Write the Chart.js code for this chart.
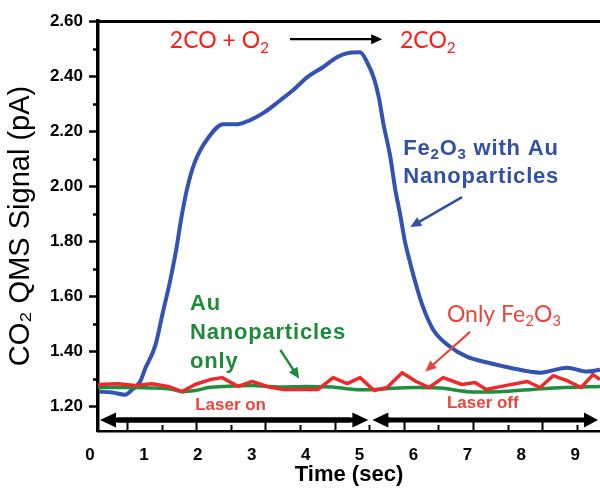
<!DOCTYPE html>
<html>
<head>
<meta charset="utf-8">
<script src="https://cdn.jsdelivr.net/npm/chart.js@4/dist/chart.umd.min.js"></script>
<style>
  html, body { margin: 0; padding: 0; background: #ffffff; }
  canvas { display: block; }
</style>
</head>
<body>
<canvas id="chart" width="600" height="488"></canvas>
<script>
// Axis ticks
const timeTicks = [0, 1, 2, 3, 4, 5, 6, 7, 8, 9];
const signalTicks = [1.2, 1.4, 1.6, 1.8, 2.0, 2.2, 2.4, 2.6];
const signalMinorTicks = [1.3, 1.5, 1.7, 1.9, 2.1, 2.3, 2.5];

// Fe2O3 with Au nanoparticles (blue)
const feAuTime = [0.17, 0.41, 0.65, 0.78, 0.93, 1.02, 1.21, 1.35, 1.48, 1.60, 1.69, 1.80, 1.95, 2.19, 2.47, 2.73, 2.97, 3.21, 3.53, 3.77, 4.03, 4.32, 4.58, 4.77, 5.01, 5.14, 5.27, 5.36, 5.44, 5.57, 5.66, 5.75, 5.84, 5.94, 6.05, 6.16, 6.36, 6.68, 6.99, 7.37, 7.79, 8.35, 8.85, 9.22, 9.46];
const feAuSignal = [1.253, 1.250, 1.242, 1.260, 1.290, 1.335, 1.420, 1.540, 1.650, 1.770, 1.880, 1.990, 2.090, 2.175, 2.225, 2.225, 2.240, 2.265, 2.312, 2.349, 2.396, 2.432, 2.468, 2.483, 2.486, 2.450, 2.390, 2.320, 2.229, 2.106, 1.990, 1.900, 1.800, 1.720, 1.640, 1.570, 1.480, 1.416, 1.380, 1.359, 1.340, 1.322, 1.340, 1.326, 1.333];

// Only Fe2O3 (red)
const feOnlyTime = [0.15, 0.52, 0.83, 1.15, 1.45, 1.71, 1.95, 2.23, 2.45, 2.75, 3.01, 3.28, 3.58, 3.90, 4.23, 4.51, 4.77, 5.01, 5.27, 5.51, 5.79, 6.05, 6.29, 6.55, 6.90, 7.14, 7.35, 7.70, 8.11, 8.35, 8.59, 8.85, 9.11, 9.33, 9.46];
const feOnlySignal = [1.279, 1.282, 1.275, 1.282, 1.272, 1.253, 1.279, 1.297, 1.304, 1.272, 1.290, 1.272, 1.261, 1.261, 1.261, 1.304, 1.282, 1.304, 1.257, 1.268, 1.322, 1.290, 1.268, 1.304, 1.279, 1.286, 1.261, 1.275, 1.290, 1.268, 1.311, 1.293, 1.268, 1.315, 1.297];

// Au nanoparticles only (green)
const auOnlyTime = [0.15, 0.5, 0.8, 1.2, 1.5, 1.71, 1.95, 2.2, 2.5, 3.0, 3.5, 4.0, 4.5, 4.9, 5.3, 5.6, 6.0, 6.5, 7.0, 7.6, 8.2, 8.8, 9.46];
const auOnlySignal = [1.268, 1.268, 1.268, 1.266, 1.262, 1.253, 1.257, 1.268, 1.272, 1.275, 1.270, 1.272, 1.270, 1.261, 1.261, 1.265, 1.268, 1.266, 1.253, 1.253, 1.261, 1.268, 1.272];

// Laser timing bar under the plot
const laserSwitchTime = 5.2;
const barTickStart = 0.686;
const barTickStep = 0.642;
const barTickCount = 15;

const BLUE = '#3452b2';
const BLUE_TEXT = '#3351a3';
const RED = '#ec2a2a';
const RED_TEXT = '#e8453c';
const GREEN = '#1f8e3e';
const GREEN_TEXT = '#1f8a3a';
const SANS = '"Liberation Sans", Arial, "DejaVu Sans", sans-serif';
const HUMANIST = 'Lato, "Open Sans", sans-serif';

const toPoints = (xs, ys) => xs.map((x, i) => ({ x: x, y: ys[i] }));

function drawRich(ctx, parts, x, y, size, weight, family, color, spacing) {
  let cx = x;
  ctx.save();
  ctx.fillStyle = color;
  ctx.textBaseline = 'alphabetic';
  ctx.textAlign = 'left';
  ctx.letterSpacing = spacing || '0px';
  for (const [txt, sub] of parts) {
    const s = sub ? Math.round(size * 0.66) : size;
    ctx.font = `${weight} ${s}px ${family}`;
    ctx.fillText(txt, cx, sub ? y + size * 0.2 : y);
    cx += ctx.measureText(txt).width;
  }
  ctx.restore();
}

function drawArrow(ctx, x1, y1, x2, y2, width, len, half, color) {
  const a = Math.atan2(y2 - y1, x2 - x1);
  ctx.save();
  ctx.strokeStyle = color;
  ctx.fillStyle = color;
  ctx.lineWidth = width;
  ctx.lineCap = 'butt';
  ctx.beginPath();
  ctx.moveTo(x1, y1);
  ctx.lineTo(x2 - len * 0.8 * Math.cos(a), y2 - len * 0.8 * Math.sin(a));
  ctx.stroke();
  ctx.beginPath();
  ctx.moveTo(x2, y2);
  ctx.lineTo(x2 - len * Math.cos(a) + half * Math.sin(a), y2 - len * Math.sin(a) - half * Math.cos(a));
  ctx.lineTo(x2 - len * Math.cos(a) - half * Math.sin(a), y2 - len * Math.sin(a) + half * Math.cos(a));
  ctx.closePath();
  ctx.fill();
  ctx.restore();
}

// Text labels placed in data coordinates (time, signal)
const labels = [
  { t: 1.48, v: 2.501, parts: [['2CO + O'], ['2', 1]], size: 23, weight: 400, family: HUMANIST, color: '#ff1a1a' },
  { t: 5.75, v: 2.501, parts: [['2CO'], ['2', 1]], size: 23, weight: 400, family: HUMANIST, color: '#ff1a1a' },
  { t: 5.81, v: 2.113, parts: [['Fe'], ['2', 1], ['O'], ['3', 1], [' with Au']], size: 22, weight: 700, family: SANS, color: BLUE_TEXT, spacing: '0.8px' },
  { t: 5.81, v: 2.011, parts: [['Nanoparticles']], size: 22, weight: 700, family: SANS, color: BLUE_TEXT, spacing: '0.8px' },
  { t: 1.855, v: 1.550, parts: [['Au']], size: 22, weight: 700, family: SANS, color: GREEN_TEXT, spacing: '0.8px' },
  { t: 1.855, v: 1.445, parts: [['Nanoparticles']], size: 22, weight: 700, family: SANS, color: GREEN_TEXT, spacing: '0.8px' },
  { t: 1.855, v: 1.340, parts: [['only']], size: 22, weight: 700, family: SANS, color: GREEN_TEXT, spacing: '0.8px' },
  { t: 6.62, v: 1.507, parts: [['Only Fe'], ['2', 1], ['O'], ['3', 1]], size: 23, weight: 400, family: HUMANIST, color: RED_TEXT },
  { t: 1.95, v: 1.188, parts: [['Laser on']], size: 17, weight: 700, family: SANS, color: RED_TEXT },
  { t: 6.62, v: 1.195, parts: [['Laser off']], size: 17, weight: 700, family: SANS, color: RED_TEXT }
];

// Pointer arrows (from -> to, data coordinates)
const pointers = [
  { t1: 3.71, v1: 2.534, t2: 5.42, v2: 2.534, color: '#000000', width: 2.2 },
  { t1: 6.90, v1: 1.960, t2: 5.94, v2: 1.851, color: BLUE_TEXT, width: 2.5 },
  { t1: 3.53, v1: 1.405, t2: 3.88, v2: 1.300, color: GREEN_TEXT, width: 2.5 },
  { t1: 7.05, v1: 1.470, t2: 6.22, v2: 1.326, color: RED_TEXT, width: 2.2 }
];

const decorations = {
  id: 'decorations',
  afterDraw(chart) {
    const { ctx, chartArea } = chart;
    const xs = chart.scales.x;
    const ys = chart.scales.y;

    // minor ticks on the signal axis
    ctx.save();
    ctx.strokeStyle = '#000';
    ctx.lineWidth = 2.5;
    for (const v of signalMinorTicks) {
      const py = Math.round(ys.getPixelForValue(v)) + 0.5;
      ctx.beginPath();
      ctx.moveTo(chartArea.left - 5, py);
      ctx.lineTo(chartArea.left, py);
      ctx.stroke();
    }
    ctx.restore();

    // laser on / off bar
    const barY = chartArea.bottom - 11;
    const xs0 = xs.getPixelForValue(laserSwitchTime);
    ctx.save();
    ctx.strokeStyle = '#000';
    ctx.lineWidth = 2;
    for (let i = 0; i < barTickCount; i++) {
      const px = Math.round(xs.getPixelForValue(barTickStart + i * barTickStep)) + 0.5;
      ctx.beginPath();
      ctx.moveTo(px, i % 2 === 0 ? barY : chartArea.bottom - 6);
      ctx.lineTo(px, chartArea.bottom);
      ctx.stroke();
    }
    ctx.restore();
    drawArrow(ctx, xs0 - 20, barY, chartArea.left + 2, barY, 5, 16, 7.5, '#000');
    drawArrow(ctx, chartArea.left + 20, barY, xs0 - 2, barY, 5, 16, 7.5, '#000');
    drawArrow(ctx, xs0 + 20, barY, xs0 + 2, barY, 5, 16, 7.5, '#000');
    drawArrow(ctx, xs0 + 10, barY, chartArea.right - 2, barY, 5, 14, 7.5, '#000');

    // pointers and labels
    for (const p of pointers) {
      drawArrow(ctx, xs.getPixelForValue(p.t1), ys.getPixelForValue(p.v1),
        xs.getPixelForValue(p.t2), ys.getPixelForValue(p.v2), p.width, 11, 5, p.color);
    }
    for (const l of labels) {
      drawRich(ctx, l.parts, xs.getPixelForValue(l.t), ys.getPixelForValue(l.v),
        l.size, l.weight, l.family, l.color, l.spacing);
    }
  }
};

new Chart(document.getElementById('chart'), {
  type: 'line',
  data: {
    datasets: [
      {
        label: 'Only Fe2O3',
        data: toPoints(feOnlyTime, feOnlySignal),
        borderColor: RED,
        borderWidth: 3.5,
        pointRadius: 0,
        tension: 0,
        borderJoinStyle: 'round',
        order: 1
      },
      {
        label: 'Au Nanoparticles only',
        data: toPoints(auOnlyTime, auOnlySignal),
        borderColor: GREEN,
        borderWidth: 3.5,
        pointRadius: 0,
        tension: 0.3,
        order: 2
      },
      {
        label: 'Fe2O3 with Au Nanoparticles',
        data: toPoints(feAuTime, feAuSignal),
        borderColor: BLUE,
        borderWidth: 4,
        pointRadius: 0,
        cubicInterpolationMode: 'monotone',
        borderJoinStyle: 'round',
        order: 3
      }
    ]
  },
  options: {
    responsive: false,
    animation: false,
    devicePixelRatio: 1,
    layout: { padding: { top: 21, left: 0, right: 0, bottom: 0 } },
    plugins: { legend: { display: false }, tooltip: { enabled: false } },
    scales: {
      x: {
        type: 'linear',
        position: 'bottom',
        min: 0.148,
        max: 9.46,
        afterBuildTicks: (s) => { s.ticks = timeTicks.map(v => ({ value: v })); },
        afterFit: (s) => { s.height = 57; },
        grid: { display: false, drawTicks: false },
        border: { display: true, color: '#000', width: 2.5 },
        ticks: {
          color: '#000',
          padding: 14,
          maxRotation: 0,
          autoSkip: false,
          font: { family: SANS, size: 17, weight: 'bold' },
          callback: (v) => String(v)
        },
        title: {
          display: true,
          text: 'Time (sec)',
          color: '#000',
          font: { family: SANS, size: 22, weight: 'bold' },
          padding: { top: 0, bottom: 0 }
        }
      },
      xTop: {
        type: 'linear',
        position: 'top',
        display: true,
        afterFit: (s) => { s.height = 0; },
        grid: { display: false, drawTicks: false },
        ticks: { display: false },
        border: { display: true, color: '#000', width: 3 }
      },
      y: {
        type: 'linear',
        min: 1.11,
        max: 2.6,
        afterBuildTicks: (s) => { s.ticks = signalTicks.map(v => ({ value: v })); },
        afterFit: (s) => { s.width = 98; },
        grid: { display: true, drawOnChartArea: false, drawTicks: true, tickLength: 9, tickWidth: 2.5, tickColor: '#000', color: '#000' },
        border: { display: true, color: '#000', width: 3.5 },
        ticks: {
          color: '#000',
          padding: 6,
          font: { family: SANS, size: 17, weight: 'bold' },
          callback: (v) => Number(v).toFixed(2)
        },
        title: {
          display: true,
          text: 'CO₂ QMS Signal (pA)',
          color: '#000',
          font: { family: SANS, size: 29, weight: 'normal' },
          padding: { top: 4, bottom: 0 }
        }
      }
    }
  },
  plugins: [decorations]
});
</script>
</body>
</html>
